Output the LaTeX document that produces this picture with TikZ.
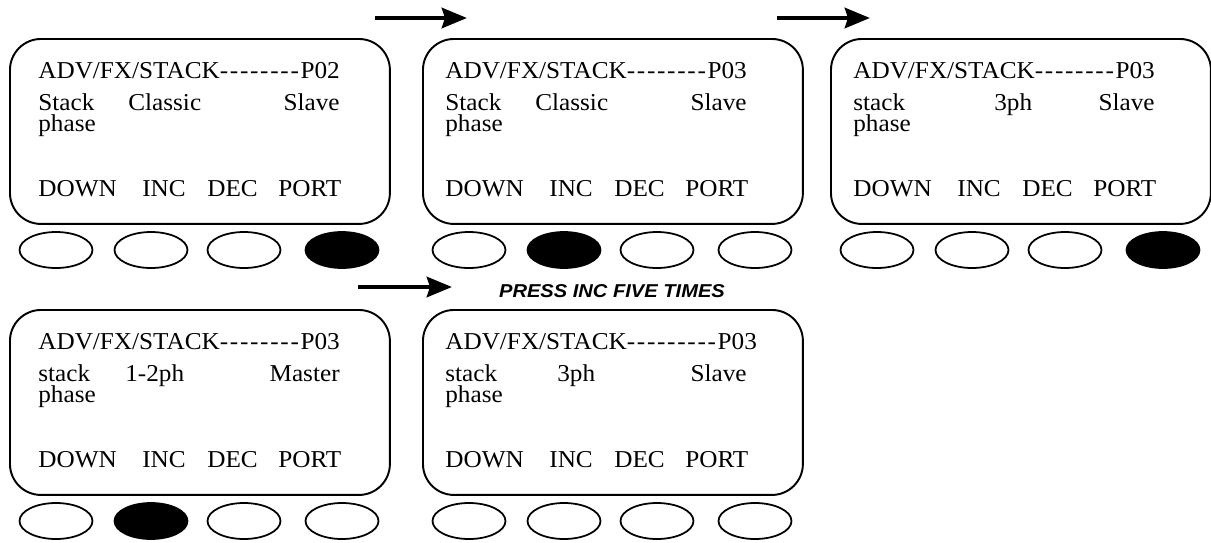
\documentclass[tikz,border=0pt]{standalone}
\usepackage{fontspec}
\newfontfamily\lcdfont{Liberation Serif}[FakeStretch=1.04]
\newfontfamily\pressfont{Liberation Sans}[FakeStretch=1.08]
\usetikzlibrary{shapes.geometric, arrows.meta, calc}

% one hyphen of the dotted title line
\newcommand{\hy}{-\kern0.07em}

% #1 name, #2 top left, #3 text indent, #4 title, #5 left word,
% #6 middle word indent, #7 middle word, #8 right word, #9 pressed key
\newcommand{\lcdscreen}[9]{%
  \node[screen, anchor=north west] (#1) at (#2) {};
  \node[lcdtext] (#1-title) at ($(#1.north west)+(#3,40)$) {#4};
  \node[lcdtext] (#1-left) at ($(#1.north west)+(#3,72)$) {#5};
  \node[lcdtext] (#1-mid) at ($(#1.north west)+(#3+#6,72)$) {#7};
  \node[lcdtext, anchor=base east] (#1-right) at ($(#1.north west)+(#3+302,72)$) {#8};
  \node[lcdtext] (#1-phase) at ($(#1.north west)+(#3,93)$) {phase};
  \foreach \k/\dx in {DOWN/0, INC/104, DEC/169, PORT/240}
    \node[lcdtext] (#1-\k) at ($(#1.north west)+(#3+\dx,158)$) {\k};
  \foreach \i/\dx in {1/47, 2/142, 3/235, 4/333} {
    \ifnum\i=#9 \def\btnfill{black}\else\def\btnfill{white}\fi
    \node[btn, fill=\btnfill] (#1-b\i) at ($(#1.north west)+(\dx,212)$) {};
  }%
}

\begin{document}
\begin{tikzpicture}[
    x=0.02cm, y=-0.02cm,
    screen/.style={draw, line width=1.1pt, rounded corners=0.62cm, minimum width=7.6cm, minimum height=3.7cm, inner sep=0pt},
    lcdtext/.style={anchor=base west, inner sep=0pt, font=\lcdfont\fontsize{13.8}{16}\selectfont},
    btn/.style={draw, ellipse, line width=1pt, minimum width=1.46cm, minimum height=0.72cm, inner sep=0pt},
    arrow/.style={-{Stealth[length=0.5cm, width=0.4cm, inset=0.06cm]}, line width=2.8pt},
    press/.style={anchor=base, inner sep=0pt, font=\pressfont\bfseries\itshape\fontsize{10.6}{12}\selectfont}
]
\useasboundingbox (0,0) rectangle (1211,542);

\lcdscreen{s1}{9,38}{29}{ADV/FX/STACK\hy\hy\hy\hy\hy\hy\hy\hy P02}{Stack}{90}{Classic}{Slave}{4}
\lcdscreen{s2}{422,38}{23}{ADV/FX/STACK\hy\hy\hy\hy\hy\hy\hy\hy P03}{Stack}{90}{Classic}{Slave}{2}
\lcdscreen{s3}{830,38}{23}{ADV/FX/STACK\hy\hy\hy\hy\hy\hy\hy\hy P03}{stack}{141}{3ph}{Slave}{4}
\lcdscreen{s4}{9,309}{29}{ADV/FX/STACK\hy\hy\hy\hy\hy\hy\hy\hy P03}{stack}{87}{1-2ph}{Master}{2}
\lcdscreen{s5}{422,309}{23}{ADV/FX/STACK\hy\hy\hy\hy\hy\hy\hy\hy\hy P03}{stack}{112}{3ph}{Slave}{0}

\node[press] (press) at (612,297) {PRESS INC FIVE TIMES};

\coordinate (a1s) at (375,18);
\coordinate (a1e) at (467,18);
\coordinate (a2s) at (777,18);
\coordinate (a2e) at (870,18);
\coordinate (a3s) at (358,287);
\coordinate (a3e) at (452,287);

\draw[arrow] (a1s) -- (a1e);
\draw[arrow] (a2s) -- (a2e);
\draw[arrow] (a3s) -- (a3e);
\end{tikzpicture}
\end{document}
